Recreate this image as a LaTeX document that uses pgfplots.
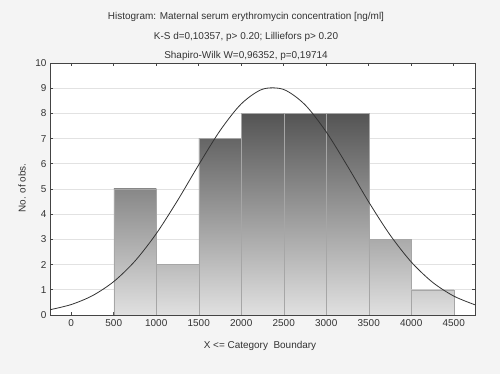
\documentclass[border=0pt]{standalone}
\usepackage{pgfplots}
\pgfplotsset{compat=1.18}
\usepackage{fontspec}
\setmainfont{Liberation Sans}
\definecolor{bgc}{HTML}{F4F4F4}
\definecolor{txt}{HTML}{333333}
\definecolor{frame}{HTML}{444444}
\definecolor{gridc}{HTML}{E2E2E2}
\definecolor{barbot}{gray}{0.88}
\begin{document}
\begin{tikzpicture}
\fill[bgc] (0,0) rectangle (500bp,374bp);
\begin{axis}[
  at={(50bp,59bp)}, anchor=south west,
  scale only axis, width=425bp, height=252bp,
  xmin=-250, xmax=4750, ymin=0, ymax=10,
  axis background/.style={fill=white},
  axis line style={frame, line width=0.8pt},
  xtick={0,500,...,4500}, ytick={0,1,...,10},
  tick align=inside, tick pos=both,
  major tick length=3bp,
  tick style={frame, line width=0.6pt},
  ymajorgrids, grid style={gridc, line width=0.6pt},
  /pgf/number format/assume math mode=true,
  /pgf/number format/set thousands separator={},
  ticklabel style={font=\fontsize{10}{12}\selectfont, text=txt},
  xticklabel style={yshift=-1bp},
  yticklabel style={xshift=0bp},
  clip=true,
]
\addplot[ybar interval, draw=gray!70, line width=0.4pt, bottom color=barbot, top color={black!46.8!white}] coordinates {(500,5) (1000,5)};
\addplot[ybar interval, draw=gray!70, line width=0.4pt, bottom color=barbot, top color={black!26.5!white}] coordinates {(1000,2) (1500,2)};
\addplot[ybar interval, draw=gray!70, line width=0.4pt, bottom color=barbot, top color={black!60.3!white}] coordinates {(1500,7) (2000,7)};
\addplot[ybar interval, draw=gray!70, line width=0.4pt, bottom color=barbot, top color={black!67!white}] coordinates {(2000,8) (2500,8)};
\addplot[ybar interval, draw=gray!70, line width=0.4pt, bottom color=barbot, top color={black!67!white}] coordinates {(2500,8) (3000,8)};
\addplot[ybar interval, draw=gray!70, line width=0.4pt, bottom color=barbot, top color={black!67!white}] coordinates {(3000,8) (3500,8)};
\addplot[ybar interval, draw=gray!70, line width=0.4pt, bottom color=barbot, top color={black!33.2!white}] coordinates {(3500,3) (4000,3)};
\addplot[ybar interval, draw=gray!70, line width=0.4pt, bottom color=barbot, top color={black!19.8!white}] coordinates {(4000,1) (4500,1)};
\addplot[smooth, black!80, line width=0.8pt, mark=none] coordinates {
(-250,0.2095) (0,0.4153) (250,0.7684) (500,1.327) (750,2.142) (1000,3.227)
(1250,4.540) (1500,5.963) (1750,7.314) (2000,8.377) (2250,8.959)
(2500,8.947) (2750,8.343) (3000,7.264) (3250,5.907) (3500,4.484) (3750,3.179)
(4000,2.104) (4250,1.300) (4500,0.7507) (4750,0.4046)};
\end{axis}
\begin{scope}[font=\fontsize{10}{12}\selectfont, text=txt]
\node at (246bp,357bp) {Histogram: Maternal serum erythromycin concentration [ng/ml]};
\node at (246bp,337bp) {K-S d=0,10357, p> 0.20; Lilliefors p> 0.20};
\node at (246bp,318bp) {Shapiro-Wilk W=0,96352, p=0,19714};
\node at (260bp,28bp) {X <= Category\ \ Boundary};
\node[rotate=90] at (22bp,186bp) {No. of obs.};
\end{scope}
\end{tikzpicture}
\end{document}
